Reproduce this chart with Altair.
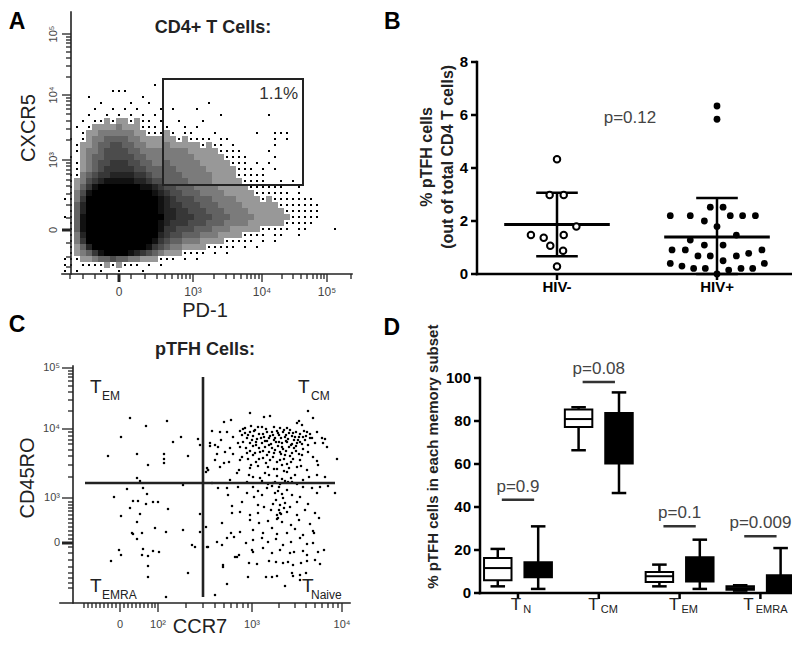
import altair as alt
import pandas as pd

FONT = "Liberation Sans"

# ======================= PANEL A : CD4+ T cells (PD-1 vs CXCR5, display channels)
A_CELL = 6      # width of one density cell, display channels
A_TOP = 204     # CXCR5 channel of the top edge of the first density row
# event density per cell (0 = empty ... 9 = saturated black)
A_DENSITY = [
    "",
    "",
    "0000000000000001",
    "00000000111",
    "00001000000001",
    "0000001000010010000000001",
    "00000100101010001010001",
    "00001001010101010000000000100000001",
    "000101121221211010010001",
    "00101222232221110100101",
    "00012233333322111210110001000000100111",
    "01012334444332222221211110110000000101",
    "001223445544332223222221211010000001",
    "00123345555443333333322222111100001",
    "010234455555443333333322222111100001",
    "00123455666554433433333222221110101",
    "001234566666554444433333222221110101",
    "0113456677776654444433333222211111",
    "012356788888776554444333322222111100101",
    "0124689999999887655444333322222111111001",
    "0135899999999998765544433332222211111101",
    "113699999999999987655544433332222121111111",
    "0147999999999999876655544433332222221111111",
    "0147999999999999877665554443333222222111111",
    "1148999999999999977666555444333322222211111",
    "014899999999999987666555444333322222211111",
    "0148999999999999866555444333222221111101100001",
    "0137999999999999765544433322221111011001",
    "013699999999999865443332222111110101",
    "012479999999998654332222111110101",
    "0123468999987654322211110101",
    "11122344544332221110101",
    "11011112121110101",
    "10100010010001",
]
A_GATE = {"pd1_lo": 101, "pd1_hi": 241, "cxcr5_lo": 89, "cxcr5_hi": 195}
A_GATE_PCT = "1.1%"
A_X_MAJOR = [57, 131, 200, 265]
A_X_LABELS = ["0", "10³", "10⁴", "10⁵"]
A_X_MINOR = [8, 21, 33, 45, 69, 83, 95, 103, 110, 116, 120, 124, 128, 152, 164,
             172, 179, 185, 189, 193, 197, 220, 231, 239, 245, 251, 255, 259, 262, 289]
A_Y_MAJOR = [44, 114, 179, 240]
A_Y_LABELS = ["0", "10³", "10⁴", "10⁵"]
A_Y_MINOR = [7, 17, 31, 56, 69, 80, 88, 94, 100, 104, 108, 111, 134, 145, 153, 160,
             165, 169, 173, 176, 197, 208, 216, 222, 227, 231, 234, 237]

# ======================= PANEL B : % pTFH of CD4 T cells
B_GROUPS = ["HIV-", "HIV+"]
B_NEG_VALUES = [4.33, 2.98, 2.98, 1.79, 1.47, 1.37, 1.47, 1.07, 0.88, 0.28]
B_NEG_JITTER = [0.0, -0.046, 0.042, 0.121, -0.163, -0.083, 0.042, -0.042, 0.038, 0.0]
B_POS_VALUES = [6.34, 5.84, 2.52, 2.52, 2.20, 2.20, 2.20, 2.20, 2.20, 2.0, 1.79, 1.47,
                1.28, 1.09, 1.09, 0.91, 0.91, 0.91, 0.78, 0.68, 0.68, 0.68, 0.50, 0.40,
                0.40, 0.30, 0.21, 0.21, 0.21, 0.21, 0.15, 0.0]
B_POS_JITTER = [0, 0, -0.042, 0.038, -0.292, -0.167, 0.083, 0.160, 0.240, -0.079, 0,
                0.121, -0.167, -0.079, 0.038, -0.281, -0.198, 0.281, 0.198, -0.119,
                -0.042, 0.121, 0.038, -0.292, 0.296, -0.219, -0.146, -0.073, 0.150,
                0.223, 0.073, 0]
B_MEAN = [1.87, 1.40]
B_SD = [1.20, 1.47]
B_PVALUE = "p=0.12"
B_Y_TICKS = [0, 2, 4, 6, 8]

# ======================= PANEL C : pTFH cells (CCR7 vs CD45RO, display channels)
C_RIGHT = [
    (190, 190), (210, 187), (248, 192), (164, 181), (171, 183), (204, 186), (239, 182), (253, 185),
    (183, 174), (191, 177), (202, 176), (214, 176), (220, 175), (227, 175), (237, 180), (242, 178),
    (152, 172), (167, 171), (180, 172), (185, 170), (190, 171), (195, 173), (199, 169), (207, 171),
    (212, 171), (217, 172), (223, 171), (229, 170), (233, 170), (240, 169), (247, 171), (257, 171),
    (161, 163), (173, 166), (182, 168), (187, 165), (193, 167), (197, 164), (204, 166), (210, 167),
    (215, 165), (219, 168), (225, 166), (228, 164), (235, 166), (238, 163), (243, 166), (250, 165),
    (262, 165), (265, 164), (155, 158), (178, 160), (183, 161), (190, 160), (196, 161), (202, 160),
    (207, 162), (211, 159), (216, 161), (222, 160), (227, 161), (232, 159), (237, 160), (242, 159),
    (255, 160), (263, 160), (150, 157), (158, 156), (170, 155), (180, 156), (193, 157), (199, 155),
    (205, 156), (212, 155), (218, 157), (223, 154), (229, 156), (234, 155), (243, 154), (267, 156),
    (165, 151), (173, 149), (187, 150), (193, 148), (200, 151), (207, 148), (214, 150), (220, 151),
    (225, 148), (232, 150), (239, 149), (248, 151), (253, 146), (277, 144), (147, 135), (155, 143),
    (169, 141), (180, 143), (188, 144), (196, 141), (203, 145), (210, 143), (217, 141), (224, 144),
    (231, 141), (240, 143), (257, 142), (148, 133), (160, 136), (179, 133), (190, 135), (198, 137),
    (208, 136), (214, 134), (222, 138), (229, 135), (237, 136), (247, 133), (258, 138), (146, 131),
    (177, 130), (189, 128), (193, 126), (205, 130), (217, 127), (227, 131), (235, 128), (249, 126),
    (257, 128), (265, 126), (187, 121), (202, 122), (213, 120), (220, 119), (228, 121), (237, 119),
    (158, 115), (167, 115), (178, 116), (193, 116), (198, 112), (207, 115), (212, 117), (219, 116),
    (227, 113), (243, 116), (252, 115), (260, 116), (268, 117), (275, 110), (168, 108), (187, 110),
    (194, 106), (202, 108), (215, 110), (223, 105), (232, 108), (240, 106), (257, 110), (172, 97),
    (182, 101), (198, 98), (204, 96), (213, 99), (225, 100), (230, 96), (237, 101), (248, 99),
    (172, 90), (180, 91), (190, 88), (198, 90), (211, 93), (217, 88), (220, 90), (227, 91),
    (237, 88), (245, 93), (255, 90), (218, 85), (162, 80), (190, 83), (199, 80), (208, 82),
    (222, 81), (231, 78), (239, 83), (250, 79), (259, 85), (146, 76), (171, 70), (180, 71),
    (193, 73), (203, 70), (212, 75), (217, 69), (227, 70), (235, 74), (243, 68), (253, 72),
    (254, 70), (157, 61), (167, 65), (174, 66), (186, 60), (193, 63), (202, 65), (208, 61),
    (216, 64), (223, 58), (231, 61), (240, 65), (247, 59), (253, 60), (147, 56), (162, 58),
    (177, 46), (179, 48), (192, 53), (193, 51), (203, 55), (212, 50), (220, 53), (230, 50),
    (234, 51), (243, 52), (247, 48), (258, 51), (264, 53), (175, 46), (189, 40), (197, 39),
    (209, 42), (216, 41), (223, 40), (228, 41), (233, 38), (241, 40), (247, 42), (255, 43),
    (260, 39), (163, 38), (163, 36), (188, 26), (206, 26), (212, 26), (217, 27), (232, 30),
    (233, 27), (240, 28), (246, 30), (167, 19), (225, 17), (240, 23), (155, 8),
]
C_CORE = [
    (185, 175), (188, 168), (194, 172), (198, 176), (203, 169), (206, 174), (209, 165), (213, 168),
    (218, 170), (221, 165), (224, 173), (226, 168), (230, 173), (232, 167), (236, 171), (239, 166),
    (244, 172), (246, 167), (250, 169), (192, 163), (196, 158), (201, 165), (205, 162), (209, 158),
    (214, 163), (219, 161), (222, 156), (226, 162), (231, 158), (234, 163), (236, 157), (240, 161),
    (245, 163), (248, 158), (252, 165), (186, 155), (190, 152), (195, 150), (203, 152), (209, 151),
    (215, 153), (221, 149), (226, 152), (230, 147), (236, 152), (242, 148), (182, 146), (199, 144),
    (206, 140), (213, 146), (220, 143), (227, 139), (233, 144), (191, 138), (217, 134), (224, 132),
    (241, 137), (200, 125), (209, 128), (222, 124), (231, 125), (243, 123), (215, 121), (225, 122),
    (208, 119), (232, 121), (218, 112), (222, 109), (216, 103), (220, 98), (219, 93), (221, 89),
    (217, 84), (224, 95), (150, 160), (157, 149), (160, 171), (164, 140), (152, 120), (170, 123),
]
C_LEFT = [
    (70, 185), (107, 182), (86, 177), (61, 166), (121, 166), (113, 161), (138, 164), (140, 158),
    (48, 147), (77, 149), (104, 149), (128, 147), (104, 144), (104, 140), (88, 138), (77, 125),
    (80, 122), (148, 133), (67, 114), (83, 115), (54, 106), (87, 109), (73, 102), (78, 102),
    (93, 101), (98, 101), (86, 99), (70, 95), (108, 94), (61, 87), (80, 89), (140, 89),
    (77, 81), (95, 75), (106, 71), (123, 73), (72, 70), (73, 69), (82, 70), (77, 64),
    (132, 58), (135, 56), (148, 56), (59, 53), (83, 54), (93, 52), (99, 51), (61, 48),
    (82, 48), (88, 47), (51, 42), (88, 37), (128, 30), (88, 26), (106, 6), (123, 118), (140, 71),
]
C_GATE_CCR7 = 143
C_GATE_CD45RO = 120
C_QUAD_SUB = ["EM", "CM", "EMRA", "Naive"]
C_X_MAJOR = [60, 98, 192, 282]
C_X_LABELS = ["0", "10²", "10³", "10⁴"]
C_X_MINOR = [24, 28, 32, 36, 40, 44, 48, 52, 56, 64, 68, 72, 76, 80, 84, 88, 92, 95,
             126, 143, 155, 164, 171, 177, 183, 188, 219, 235, 246, 255, 262, 268, 273, 278]
C_Y_MAJOR = [60, 105, 174, 235]
C_Y_LABELS = ["0", "10³", "10⁴", "10⁵"]
C_Y_MINOR = [15, 20, 25, 30, 36, 43, 50, 56, 64, 68, 72, 76, 80, 84, 88, 92, 95, 98, 101,
             126, 138, 147, 153, 159, 163, 167, 171, 192, 203, 211, 217, 222, 226, 229, 232]

# ======================= PANEL D : memory subsets (box plots, HIV- open / HIV+ filled)
D_SUBSETS = ["N", "CM", "EM", "EMRA"]
D_GROUPS = ["HIV-", "HIV+"]
D_LOW = [3.1, 1.9, 66.4, 46.5, 3.1, 1.9, 1.1, 0.3]
D_Q1 = [5.9, 7.3, 77.2, 60.2, 5.1, 5.4, 1.5, 0.3]
D_MED = [11.6, 12.4, 80.9, 75.0, 7.8, 11.0, 2.3, 1.2]
D_Q3 = [16.3, 14.3, 85.3, 83.7, 9.8, 16.6, 3.1, 8.2]
D_HIGH = [20.5, 31.0, 86.4, 93.3, 13.2, 24.8, 3.6, 20.9]
D_P_LABELS = ["p=0.9", "p=0.08", "p=0.1", "p=0.009"]
D_P_BAR = [43.4, 98.1, 31.0, 26.4]
D_Y_TICKS = [0, 20, 40, 60, 80, 100]

# ======================= layout (pixel ranges of each panel inside the canvas)
W, H = 784, 632


class Panel:
    def __init__(self, xd, xr, yd, yr):
        self.xd, self.yd = xd, yd
        self.xs = alt.Scale(domain=xd, range=xr, nice=False, zero=False)
        self.ys = alt.Scale(domain=yd, range=yr, nice=False, zero=False)
        self.xppu = abs(xr[1] - xr[0]) / abs(xd[1] - xd[0])   # pixels per data unit
        self.yppu = abs(yr[1] - yr[0]) / abs(yd[1] - yd[0])

    def X(self, f):
        return alt.X(f, scale=self.xs, axis=None)

    def Y(self, f):
        return alt.Y(f, scale=self.ys, axis=None)

    def xd_(self, v):
        return alt.XDatum(v, scale=self.xs, axis=None)

    def yd_(self, v):
        return alt.YDatum(v, scale=self.ys, axis=None)

    def label(self, text, x, y, **mark):
        return alt.Chart(pd.DataFrame({"t": [text]})).mark_text(font=FONT, **mark).encode(
            x=self.xd_(x), y=self.yd_(y), text="t:N")

    @staticmethod
    def _tick_table(major, minor, thick, major_len, minor_len, tick_w):
        rows = [{"tick": v, "len": minor_len, "w": tick_w} for v in minor]
        rows += [{"tick": v, "len": major_len, "w": 3 if v in thick else tick_w} for v in major]
        return pd.DataFrame(rows)

    def x_axis(self, y_at, major, labels, minor, major_len, minor_len, thick=(),
               line_w=1.6, tick_w=1.3, color="#222", label_kw=None):
        out = [alt.Chart(pd.DataFrame({"lo": [self.xd[0]], "hi": [self.xd[1]], "at": [y_at]}))
               .mark_rule(strokeWidth=line_w, color=color, strokeCap="square").encode(
               x=self.X("lo:Q"), x2="hi:Q", y=self.Y("at:Q"))]
        ticks = alt.Chart(self._tick_table(major, minor, thick, major_len, minor_len, tick_w))
        # tick rectangles: width w px, hanging len px below the axis line
        out.append(ticks.transform_calculate(
            t0=f"datum.tick - datum.w / 2 / {self.xppu}",
            t1=f"datum.tick + datum.w / 2 / {self.xppu}",
            e0=f"{y_at}", e1=f"{y_at} - datum.len / {self.yppu}").mark_rect(
            color=color, opacity=1, strokeWidth=0).encode(
            x=self.X("t0:Q"), x2="t1:Q", y=self.Y("e0:Q"), y2="e1:Q"))
        if labels:
            df = pd.DataFrame({"tick": major, "t": labels, "a": [y_at] * len(major)})
            out.append(alt.Chart(df).mark_text(font=FONT, **label_kw).encode(
                x=self.X("tick:Q"), y=self.Y("a:Q"), text="t:N"))
        return out

    def y_axis(self, x_at, major, labels, minor, major_len, minor_len, thick=(),
               line_w=1.6, tick_w=1.3, color="#222", label_kw=None):
        out = [alt.Chart(pd.DataFrame({"lo": [self.yd[0]], "hi": [self.yd[1]], "at": [x_at]}))
               .mark_rule(strokeWidth=line_w, color=color, strokeCap="square").encode(
               y=self.Y("lo:Q"), y2="hi:Q", x=self.X("at:Q"))]
        ticks = alt.Chart(self._tick_table(major, minor, thick, major_len, minor_len, tick_w))
        out.append(ticks.transform_calculate(
            t0=f"datum.tick - datum.w / 2 / {self.yppu}",
            t1=f"datum.tick + datum.w / 2 / {self.yppu}",
            e0=f"{x_at}", e1=f"{x_at} - datum.len / {self.xppu}").mark_rect(
            color=color, opacity=1, strokeWidth=0).encode(
            y=self.Y("t0:Q"), y2="t1:Q", x=self.X("e0:Q"), x2="e1:Q"))
        if labels:
            df = pd.DataFrame({"tick": major, "t": labels, "a": [x_at] * len(major)})
            out.append(alt.Chart(df).mark_text(font=FONT, **label_kw).encode(
                y=self.Y("tick:Q"), x=self.X("a:Q"), text="t:N"))
        return out


PA = Panel([0, 290], [54, 344], [0, 262], [266, 4])
PB = Panel([-0.5, 1.5], [469, 789], [0, 8], [266, 54])
PC = Panel([0, 290], [52, 342], [0, 237], [595, 358])
PD = Panel([-0.47, 3.49], [472, 792], [0, 100], [585, 370])

BIG_TITLE = dict(fontSize=20, color="#222", align="center", baseline="middle")
LETTER = dict(fontSize=23, fontWeight="bold", color="black", align="center", baseline="middle")
BOLD_LAB = dict(fontSize=15, fontWeight="bold", color="black")

# ---------------------------------------------------------------- panel A
cells = []
for r, row in enumerate(A_DENSITY):
    for c, ch in enumerate(row):
        if ch != "0":
            cells.append({"pd1": c * A_CELL + A_CELL / 2,
                          "cxcr5": A_TOP - r * A_CELL - A_CELL / 2,
                          "density": int(ch)})
a_cells = alt.Chart(pd.DataFrame(cells))
half = A_CELL / 2
a_haze = a_cells.transform_filter("datum.density > 1").transform_calculate(
    x1=f"datum.pd1 - {half}", x2=f"datum.pd1 + {half}",
    y1=f"datum.cxcr5 - {half}", y2=f"datum.cxcr5 + {half}").mark_rect(
    color="black", strokeWidth=0).encode(
    x=PA.X("x1:Q"), x2="x2:Q", y=PA.Y("y1:Q"), y2="y2:Q",
    opacity=alt.Opacity("density:Q", legend=None,
                        scale=alt.Scale(type="pow", exponent=0.6, domain=[0, 9], range=[0, 1])))
a_sparse = a_cells.transform_filter("datum.density == 1").mark_square(
    color="black", size=4, opacity=1).encode(x=PA.X("pd1:Q"), y=PA.Y("cxcr5:Q"))
a_gate = alt.Chart(pd.DataFrame([A_GATE])).mark_rect(
    fillOpacity=0, stroke="#222", strokeWidth=2).encode(
    x=PA.X("pd1_lo:Q"), x2="pd1_hi:Q", y=PA.Y("cxcr5_lo:Q"), y2="cxcr5_hi:Q")
panel_a = alt.layer(
    a_haze, a_sparse, a_gate,
    *PA.x_axis(0, A_X_MAJOR, A_X_LABELS, A_X_MINOR, 8, 5, thick=[57],
               label_kw=dict(fontSize=12, color="#444", align="center", baseline="middle", dy=18)),
    *PA.y_axis(9, A_Y_MAJOR, A_Y_LABELS, A_Y_MINOR, 9, 5, thick=[44],
               label_kw=dict(fontSize=11, color="#444", angle=270, align="center",
                             baseline="bottom", dy=-12)),
    PA.label("PD-1", 143, -37, **BIG_TITLE),
    PA.label("CXCR5", -33, 146, angle=270, **BIG_TITLE),
    PA.label(A_GATE_PCT, 236, 180, fontSize=17, color="#333", align="right", baseline="middle"),
    PA.label("CD4+ T Cells:", 151, 246, fontSize=18, fontWeight="bold", color="#222",
             align="center", baseline="middle"),
    PA.label("A", -45, 252, **LETTER),
)

# ---------------------------------------------------------------- panel B
b_pts = pd.DataFrame({
    "group": ["HIV-"] * len(B_NEG_VALUES) + ["HIV+"] * len(B_POS_VALUES),
    "value": B_NEG_VALUES + B_POS_VALUES,
    "jitter": B_NEG_JITTER + B_POS_JITTER,
})
b_pts["pos"] = b_pts["group"].map({g: i for i, g in enumerate(B_GROUPS)}) + b_pts["jitter"]
b_sum = pd.DataFrame({"group": B_GROUPS, "idx": [0, 1], "mean": B_MEAN, "sd": B_SD})

b_base = alt.Chart(b_sum).transform_calculate(
    lo="max(0, datum.mean - datum.sd)", hi="datum.mean + datum.sd",
    ml="datum.idx - 0.33", mr="datum.idx + 0.33",
    cl="datum.idx - 0.13", cr="datum.idx + 0.13")
b_vert = b_base.mark_rule(strokeWidth=2.5, color="black").encode(
    x=PB.X("idx:Q"), y=PB.Y("lo:Q"), y2="hi:Q")
b_mean = b_base.mark_rule(strokeWidth=3, color="black").encode(
    x=PB.X("ml:Q"), x2="mr:Q", y=PB.Y("mean:Q"))
b_cap_hi = b_base.mark_rule(strokeWidth=2.5, color="black").encode(
    x=PB.X("cl:Q"), x2="cr:Q", y=PB.Y("hi:Q"))
b_cap_lo = b_base.mark_rule(strokeWidth=2.5, color="black").encode(
    x=PB.X("cl:Q"), x2="cr:Q", y=PB.Y("lo:Q"))
b_open = alt.Chart(b_pts[b_pts["group"] == "HIV-"]).mark_point(
    shape="circle", filled=True, fill="white", stroke="black", strokeWidth=2,
    size=42, opacity=1).encode(x=PB.X("pos:Q"), y=PB.Y("value:Q"))
b_fill = alt.Chart(b_pts[b_pts["group"] == "HIV+"]).mark_circle(
    color="black", size=46, opacity=1).encode(x=PB.X("pos:Q"), y=PB.Y("value:Q"))
panel_b = alt.layer(
    *PB.x_axis(0, [0, 1], B_GROUPS, [], 6, 6, line_w=2.5, tick_w=2.5, color="black",
               label_kw=dict(align="center", baseline="middle", dy=13, **BOLD_LAB)),
    *PB.y_axis(-0.5, B_Y_TICKS, [str(v) for v in B_Y_TICKS], [], 6, 6,
               line_w=2.5, tick_w=2.5, color="black",
               label_kw=dict(align="right", baseline="middle", dx=-9, **BOLD_LAB)),
    b_vert, b_mean, b_cap_hi, b_cap_lo, b_open, b_fill,
    PB.label("% pTFH cells\n(out of total CD4 T cells)", -0.8125, 4.42, angle=270,
             lineBreak="\n", lineHeight=21, fontSize=16, fontWeight="bold", color="#222",
             align="center", baseline="middle"),
    PB.label(B_PVALUE, 0.456, 5.89, fontSize=17, color="#444", align="center",
             baseline="middle"),
    PB.label("B", -1.03, 9.5, **LETTER),
)

# ---------------------------------------------------------------- panel C
c_pts = pd.DataFrame(C_RIGHT + C_CORE + C_LEFT, columns=["ccr7", "cd45ro"])
c_dots = alt.Chart(c_pts).mark_square(color="black", size=5, opacity=1).encode(
    x=PC.X("ccr7:Q"), y=PC.Y("cd45ro:Q"))
c_vline = alt.Chart(pd.DataFrame({"ccr7": [C_GATE_CCR7]})).mark_rule(
    strokeWidth=2.6, color="#222").encode(
    x=PC.X("ccr7:Q"), y=PC.yd_(6), y2=alt.Y2Datum(226))
c_hline = alt.Chart(pd.DataFrame({"cd45ro": [C_GATE_CD45RO]})).mark_rule(
    strokeWidth=2.6, color="#222").encode(
    y=PC.Y("cd45ro:Q"), x=PC.xd_(25), x2=alt.X2Datum(275))
c_quads = []
for sub, qx, qy, sdx in zip(C_QUAD_SUB, [30, 238, 30, 242], [210, 210, 11, 11], [12, 13, 12, 9]):
    c_quads.append(PC.label("T", qx, qy, fontSize=19, color="#222", align="left",
                            baseline="alphabetic"))
    c_quads.append(PC.label(sub, qx, qy, fontSize=12, color="#222", align="left",
                            baseline="alphabetic", dx=sdx, dy=7))
panel_c = alt.layer(
    c_dots, c_vline, c_hline, *c_quads,
    *PC.x_axis(0, C_X_MAJOR, C_X_LABELS, C_X_MINOR, 9, 5,
               label_kw=dict(fontSize=11, color="#444", align="center", baseline="middle", dy=22)),
    *PC.y_axis(13, C_Y_MAJOR, C_Y_LABELS, C_Y_MINOR, 11, 5, thick=[60],
               label_kw=dict(fontSize=11, color="#444", align="right", baseline="middle", dx=-13)),
    PC.label("CCR7", 140, -24, **BIG_TITLE),
    PC.label("CD45RO", -32, 125, angle=270, **BIG_TITLE),
    PC.label("pTFH Cells:", 145, 253, fontSize=18, fontWeight="bold", color="#222",
             align="center", baseline="middle"),
    PC.label("C", -43, 278, **LETTER),
)

# ---------------------------------------------------------------- panel D
d_rows = []
k = 0
for i, s in enumerate(D_SUBSETS):
    for j, g in enumerate(D_GROUPS):
        d_rows.append({"subset": s, "group": g, "pos": i + (-0.25 if j == 0 else 0.25),
                       "low": D_LOW[k], "q1": D_Q1[k], "med": D_MED[k], "q3": D_Q3[k],
                       "high": D_HIGH[k]})
        k += 1
d_base = alt.Chart(pd.DataFrame(d_rows)).transform_calculate(
    bl="datum.pos - 0.17", br="datum.pos + 0.17",
    cl="datum.pos - 0.09", cr="datum.pos + 0.09")
d_whisk = d_base.mark_rule(strokeWidth=2.5, color="black").encode(
    x=PD.X("pos:Q"), y=PD.Y("low:Q"), y2="high:Q")
d_cap_lo = d_base.mark_rule(strokeWidth=2.5, color="black").encode(
    x=PD.X("cl:Q"), x2="cr:Q", y=PD.Y("low:Q"))
d_cap_hi = d_base.mark_rule(strokeWidth=2.5, color="black").encode(
    x=PD.X("cl:Q"), x2="cr:Q", y=PD.Y("high:Q"))
d_box = d_base.mark_rect(stroke="black", strokeWidth=2, opacity=1).encode(
    x=PD.X("bl:Q"), x2="br:Q", y=PD.Y("q1:Q"), y2="q3:Q",
    fill=alt.condition("datum.group == 'HIV+'", alt.value("black"), alt.value("white")))
d_med = d_base.mark_rule(strokeWidth=2, color="black").encode(
    x=PD.X("bl:Q"), x2="br:Q", y=PD.Y("med:Q"))

d_p = pd.DataFrame({"idx": list(range(len(D_P_LABELS))), "p": D_P_LABELS, "bar": D_P_BAR})
d_pbar = alt.Chart(d_p).transform_calculate(
    l="datum.idx - 0.2", r="datum.idx + 0.2").mark_rule(strokeWidth=2.5, color="#333").encode(
    x=PD.X("l:Q"), x2="r:Q", y=PD.Y("bar:Q"))
d_ptxt = alt.Chart(d_p).mark_text(font=FONT, fontSize=17, color="#444", align="center",
                                  baseline="bottom", dy=-4).encode(
    x=PD.X("idx:Q"), y=PD.Y("bar:Q"), text="p:N")
d_labels = []
for i, sub in enumerate(D_SUBSETS):
    tdx = 6.5 - 3.3 * len(sub)
    d_labels.append(PD.label("T", i, 0, fontSize=17, color="#222", align="right",
                             baseline="alphabetic", dx=tdx, dy=17))
    d_labels.append(PD.label(sub, i, 0, fontSize=11, color="#222", align="left",
                             baseline="alphabetic", dx=tdx + 2, dy=20))
panel_d = alt.layer(
    *PD.x_axis(0, [0, 1, 2, 3], None, [], 6, 6, line_w=2.5, tick_w=2.5, color="black"),
    *PD.y_axis(PD.xd[0], D_Y_TICKS, [str(v) for v in D_Y_TICKS], [], 6, 6,
               line_w=2.5, tick_w=2.5, color="black",
               label_kw=dict(align="right", baseline="middle", dx=-9, **BOLD_LAB)),
    d_whisk, d_cap_lo, d_cap_hi, d_box, d_med, d_pbar, d_ptxt, *d_labels,
    PD.label("% pTFH cells in each memory subset", -1.052, 63.4, angle=270,
             fontSize=15, fontWeight="bold", color="#222", align="center", baseline="middle"),
    PD.label("D", -1.56, 123.2, **LETTER),
)

chart = alt.layer(panel_a, panel_b, panel_c, panel_d).resolve_scale(
    x="independent", y="independent"
).properties(
    width=W, height=H, padding=0, background="white",
    autosize=alt.AutoSizeParams(type="none"),
).configure_view(stroke=None)

chart.save("out.html", embed_options={"renderer": "svg", "actions": False})
